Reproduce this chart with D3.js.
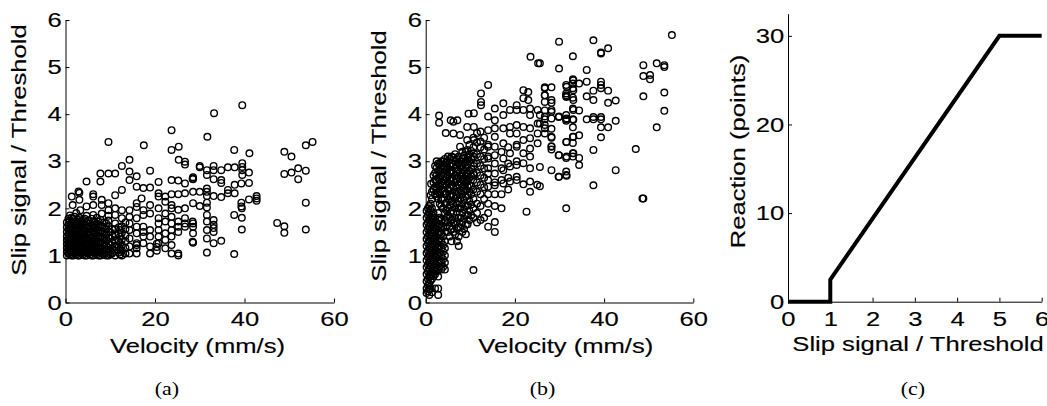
<!DOCTYPE html>
<html>
<head>
<meta charset="utf-8">
<script src="https://cdn.jsdelivr.net/npm/d3@7"></script>
<style>
  body { margin: 0; background: #fff; }
  svg { display: block; }
</style>
</head>
<body>
<svg id="fig" width="1047" height="406"></svg>
<script>
// Slip signal vs velocity, two conditions (a) and (b), plus reaction curve (c)
// values

// (a) scattered points, [velocity mm/s, slip signal / threshold]
const pointsA = [
  [9.6,3.41],[17.5,3.34],[23.7,3.66],[23.7,3.24],[25.3,3.31],[31.7,3.52],[33.2,4.02],[39.5,4.19],[37.7,3.24],[41.1,3.17],
  [48.9,3.2],[50.5,3.1],[53.7,3.34],[55.2,3.41],[48.9,2.73],[50.5,2.76],[52,2.85],[52,2.62],[53.7,2.8],[53.7,2.12],
  [47.3,1.69],[48.9,1.62],[48.9,1.48],[53.7,1.55],[25.3,3.03],[26.7,2.99],[26.7,2.93],[12.6,2.9],[14.3,3.03],[7.8,2.74],
  [9.6,2.74],[11.1,2.74],[7.8,2.57],[4.7,2.57],[14.3,2.78],[14.3,2.6],[15.9,2.68],[18.9,2.8],
  [39.3,2.53],[41,2.54],[41,2.76],[39.5,2.71],[39.5,2.81],[39.5,2.96],[39.5,2.88],[37.8,2.87],[36.3,2.87],[34.8,2.81],
  [33.1,2.9],[33.1,2.81],[31.6,2.81],[31.6,2.71],[30,2.9],[30,2.87],[33.1,2.62],[34.8,2.6],[34.8,2.54],[31.6,2.42],
  [30,2.35],[31.6,2.35],[28.5,2.35],[28.5,2.66],[28.5,2.62],[28.5,2.11],[30,2.05],[31.6,2.26],[31.6,2.12],[31.6,2.02],
  [31.6,1.86],[31.6,1.72],[31.6,1.54],[31.6,1.36],[33.1,1.75],[33.1,1.65],[33.1,1.58],[33.1,1.5],[33.1,1.26],[34.8,1.31],
  [31.6,1.06],[28.5,1.68],[28.5,1.61],[28.5,1.47],[28.5,1.27],[33.1,2.26],[34.8,2.24],[36.3,2.32],[36.3,2.39],[37.8,2.5],
  [37.8,2.32],[41,2.19],[42.7,2.26],[42.7,2.21],[42.7,2.16],[39.3,2.12],[39.3,2.04],[37.7,1.03],[39.4,1.55],[39.4,1.8],
  [39.4,2.0],[37.7,1.86],
  [20.8,2.56],[23.7,2.6],[25.2,2.59],[26.7,2.53],[28.4,2.63],[15.9,2.46],[17.4,2.43],[18.9,2.44],[12.6,2.39],[11.1,2.28],
  [23.7,2.3],[25.2,2.3],[26.7,2.32],[20.8,2.32],[20.8,2.25],[22.3,2.25],[22.3,2.14],[17,2.21],[15.9,2.11],[15.9,2.03],
  [18.9,2.07],[23.7,2.07],[23.7,2.0],[25.2,1.97],[26.7,2.0],[17.4,1.96],[17.4,1.86],[18.9,1.89],[20.8,2.0],[20.8,1.79],
  [20.8,1.68],[22.3,1.89],[22.3,1.72],[14.3,1.96],[14.3,1.82],[14.3,1.68],[15.9,1.79],[15.9,1.61],[23.7,1.82],[23.7,1.68],
  [25.2,1.72],[25.2,1.61],[26.7,1.79],[26.7,1.68],[26.7,1.61],[28.4,1.72],[25.2,1.5],[28.4,1.29],[17.4,1.61],[17.4,1.5],
  [17.4,1.4],[17.4,1.26],[18.9,1.54],[18.9,1.4],[18.9,1.19],[18.9,1.04],[20.8,1.54],[20.8,1.4],[20.8,1.26],[22.3,1.47],
  [22.3,1.33],[22.3,1.15],[23.7,1.54],[23.7,1.4],[23.7,1.22],[23.7,1.04],[25.2,1.04],[25.2,1.0],[14.3,1.54],[14.3,1.36],
  [14.3,1.19],[14.3,1.04],[15.9,1.47],[15.9,1.26],[15.9,1.04],[20.4,1.25],[20.4,1.18],[20.4,1.1],[15.9,1.22],[15.9,1.15],
  [1.4,2.25],[2.9,2.36],[3.1,2.18],[4.7,2.04],[6.2,2.25],[6.2,2.07],[8.1,2.18],[8.1,2.07],[8.1,1.89],[9.6,2.11],
  [9.6,1.96],[11.1,2.0],[11.1,1.86],[12.6,1.96],[12.6,1.79],[1.6,2.07],[3.3,1.96],[6.2,2.3],[3.1,2.33]
];

// (a) dense low-velocity columns: [velocity, [slip values]]
const denseA = [
  [0.3, [1.0,1.08,1.16,1.24,1.32,1.4,1.5,1.6,1.7]],
  [0.65, [1.04,1.12,1.2,1.28,1.36,1.45,1.55,1.65,1.78]],
  [1.0, [1.02,1.1,1.18,1.26,1.34,1.42,1.52,1.62,1.74,1.85]],
  [1.35, [1.0,1.08,1.16,1.24,1.32,1.4,1.48,1.58,1.7,1.8]],
  [1.7, [1.0,1.06,1.14,1.22,1.3,1.38,1.46,1.56,1.66,1.78]],
  [2.05, [1.04,1.12,1.2,1.3,1.4,1.5,1.6,1.68,1.82]],
  [2.4, [1.02,1.1,1.18,1.26,1.36,1.44,1.54,1.64,1.72,1.9]],
  [2.75, [1.0,1.06,1.14,1.22,1.3,1.38,1.46,1.56,1.66,1.76]],
  [3.1, [1.0,1.08,1.16,1.24,1.32,1.42,1.5,1.6,1.7,1.8]],
  [3.5, [1.04,1.12,1.22,1.32,1.42,1.52,1.62,1.72]],
  [3.9, [1.02,1.1,1.2,1.28,1.38,1.46,1.56,1.66,1.76]],
  [4.3, [1.0,1.06,1.14,1.24,1.34,1.42,1.52,1.64,1.78]],
  [4.7, [1.0,1.08,1.18,1.26,1.36,1.46,1.58,1.7,1.84]],
  [5.1, [1.04,1.14,1.24,1.34,1.5,1.62,1.74]],
  [5.5, [1.02,1.12,1.22,1.32,1.44,1.56,1.68]],
  [5.85, [1.0,1.1,1.2,1.3,1.4,1.52,1.64,1.78]],
  [6.2, [1.0,1.08,1.16,1.26,1.36,1.48,1.6,1.72,1.86]],
  [6.6, [1.04,1.14,1.24,1.34,1.46,1.58,1.7]],
  [7.0, [1.02,1.1,1.2,1.3,1.42,1.54,1.66,1.8]],
  [7.4, [1.0,1.06,1.16,1.26,1.36,1.48,1.6,1.72]],
  [7.8, [1.0,1.08,1.18,1.28,1.4,1.52,1.64,1.76]],
  [8.2, [1.04,1.14,1.26,1.38,1.5,1.62]],
  [8.6, [1.02,1.12,1.22,1.34,1.46,1.58,1.7]],
  [9.1, [1.0,1.1,1.2,1.32,1.44,1.56,1.68]],
  [9.6, [1.0,1.06,1.16,1.26,1.38,1.5,1.62,1.74,1.84]],
  [10.0, [1.02,1.1,1.22,1.36,1.5]],
  [10.4, [1.04,1.14,1.28,1.42,1.56]],
  [11.1, [1.0,1.1,1.2,1.32,1.44,1.56,1.68]],
  [11.9, [1.06,1.18,1.3,1.46,1.6]],
  [12.2, [1.02,1.14,1.26,1.4,1.54]],
  [12.6, [1.0,1.1,1.22,1.34,1.48,1.62]],
  [13.4, [1.04,1.16,1.3,1.42,1.56,1.7]]
];

// (b) scattered points
const pointsB = [
  [55.2,5.68],[29.9,5.54],[37.6,5.57],[40.9,5.4],[39.3,5.31],[39.3,5.29],[33,5.23],[29.9,4.97],[36.1,4.94],[48.8,5.04],
  [51.8,5.08],[53.5,5.04],[53.5,5.0],[48.8,4.81],[50.3,4.83],[50.3,4.74],[48.8,4.38],[53.5,4.46],[53.5,4.07],[51.8,3.72],
  [47.1,3.26],[42.6,2.81],[37.6,2.49],[48.8,2.21],[31.5,2.0],[42.6,4.29],[40.9,4.24],[42.6,3.86],[40.9,4.5],[39.3,4.55],
  [39.3,4.62],[39.3,4.69],[37.6,4.5],[37.6,4.3],[36.1,4.38],[36.1,4.69],[34.4,4.65],[33,4.65],[33,4.55],[33,4.35],
  [31.5,4.62],[31.5,4.4],[31.5,4.37],[31.5,4.44],[33,4.74],[28.2,4.57],[26.7,4.55],[26.7,4.4],[26.7,4.26],[28.2,4.24],
  [25.6,5.08],[26.7,4.08],[28.2,4.05],[29.8,3.94],[31.5,3.98],[33,4.12],[34.4,4.08],[33,3.89],[33,3.72],[31.5,3.89],
  [31.5,3.86],[36.1,3.89],[37.6,3.94],[39.3,3.94],[39.3,3.89],[37.6,3.89],[40.9,3.72],[39.3,3.72],[25.6,3.98],[25.6,3.8],
  [26.7,3.77],[26.7,3.59],[28.2,3.69],[28.2,3.5],[26.7,3.89],[34.4,3.55],[33,3.52],[31.5,3.41],[33,3.39],[28.2,3.32],
  [28.2,3.25],[39.3,3.51],[37.6,3.24],[33,3.17],[33,3.1],[31.5,3.07],[34.4,3.07],[34.4,2.92],[29.8,3.13],[28.2,2.81],
  [29.8,2.67],[31.5,2.71],[31.5,2.78],[25.6,2.88],[25.6,2.47],
  [23.5,5.22],[25.2,5.08],[14,4.62],[12.4,4.44],[12.4,4.26],[12.4,4.19],[3,3.97],[5.6,3.87],[7.1,3.87],[9.6,4.01],
  [23,4.47],[23,4.3],[26.7,4.57],[3.0,3.82],[4.5,3.6],[1.2,2.52],
  [23.4,4.12],[23.4,3.98],[23.4,3.7],[23.4,3.49],[23.4,3.27],[23.4,3.1],[23.4,2.85],[23.4,2.57],
  [21.9,4.51],[21.9,4.34],[21.9,4.09],[21.9,3.73],[21.9,3.45],[21.9,3.17],[21.9,2.96],
  [20.4,4.19],[20.4,4.09],[20.4,3.77],[20.4,3.59],[20.4,3.31],[20.4,2.92],[20.4,2.67],
  [18.9,4.09],[18.9,3.73],[18.9,3.59],[18.9,3.17],[18.9,2.89],[18.9,2.57],
  [17.4,4.23],[17.4,3.98],[17.4,3.7],[17.4,3.38],[17.4,3.06],[17.4,2.81],[17.4,2.53],
  [15.5,4.12],[15.5,3.87],[15.5,3.7],[15.5,3.52],[15.5,3.31],[15.5,3.13],[15.5,2.74],[15.5,2.49],
  [14.0,3.95],[14.0,3.66],[14.0,3.31],[14.0,3.06],[14.0,2.74],[14.0,2.46],
  [12.3,3.63],[12.3,3.42],[12.3,3.1],
  [10.8,4.02],[10.8,3.73],[10.8,3.45],[10.8,3.17],[10.8,2.96],[10.8,2.71],
  [9.3,3.73],[9.3,3.45],[9.3,3.24],[9.3,3.03],[9.3,2.74],[9.3,2.57],
  [7.7,3.56],[7.7,3.31],[6.2,3.84],[6.2,3.59],
  [25.1,4.09],[25.1,3.8],[25.1,3.59],[25.1,3.38],[26.7,4.4],[26.7,3.95],[26.7,3.7],
  [28.2,4.3],[28.2,4.09],[28.2,3.91],[28.2,3.52],[28.2,3.31],[29.9,3.95],[29.9,3.13],
  [31.6,4.58],[31.6,4.37],[31.6,3.91],[31.6,3.41],[31.6,3.1],
  [33.1,4.72],[33.1,4.51],[33.1,4.3],[33.1,4.09],[33.1,3.88],[33.1,3.52],[33.1,3.17],
  [29.9,2.67],[31.6,2.69],[48.6,2.21],[22.6,1.93],[23.4,2.35],[25.0,2.5],[21.9,2.51],[10.7,0.69]
];

// (b) dense low-velocity columns
const denseB = [
  [0.2, [0.2,0.3,0.45,0.6,0.75,0.9,1.05,1.2,1.35,1.5,1.65,1.8,1.95]],
  [0.5, [0.24,0.36,0.5,0.66,0.8,0.96,1.1,1.26,1.4,1.56,1.7,1.86,2.0]],
  [0.8, [0.16,0.28,0.4,0.55,0.7,0.85,1.0,1.15,1.3,1.45,1.6,1.75,1.9,2.05]],
  [1.1, [0.3,0.46,0.6,0.76,0.9,1.06,1.2,1.36,1.5,1.66,1.8,1.96,2.1,2.28]],
  [1.4, [0.22,0.5,0.65,0.8,0.95,1.1,1.25,1.4,1.55,1.7,1.85,2.0,2.2,2.35]],
  [1.75, [0.56,0.7,0.86,1.0,1.16,1.3,1.46,1.6,1.76,1.9,2.4,2.55,2.7]],
  [2.1, [0.3,0.6,0.75,0.9,1.05,1.2,1.35,1.5,1.65,1.8,2.3,2.45,2.6,2.75,2.9]],
  [2.45, [0.66,0.8,0.96,1.1,1.26,1.4,1.56,1.7,2.25,2.4,2.56,2.7,2.86,3.0]],
  [2.8, [0.16,0.3,0.55,0.7,0.85,1.0,1.15,1.3,1.45,1.6,1.75,1.9,2.2,2.35,2.5,2.65,2.8,2.95]],
  [3.15, [0.76,0.9,1.06,1.2,1.36,1.5,1.66,1.8,2.1,2.3,2.46,2.62,2.78,2.94]],
  [3.5, [0.7,0.85,1.0,1.15,1.3,1.45,1.6,1.75,2.05,2.2,2.4,2.55,2.7,2.85,3.0]],
  [3.9, [0.76,0.92,1.08,1.22,1.4,1.6,2.0,2.2,2.36,2.52,2.68,2.84,3.0]],
  [4.3, [0.7,0.85,1.0,1.15,1.3,1.5,1.75,1.9,2.1,2.3,2.45,2.6,2.75,2.9,3.05]],
  [4.65, [1.6,1.8,1.96,2.12,2.3,2.5,2.66,2.82,2.98]],
  [5.0, [1.5,1.7,1.85,2.0,2.2,2.4,2.55,2.7,2.85,3.0,3.1]],
  [5.4, [1.4,1.62,1.8,2.06,2.26,2.44,2.6,2.76,2.9,3.05]],
  [5.8, [1.3,1.55,1.75,1.95,2.15,2.3,2.5,2.65,2.8,2.95,3.1]],
  [6.2, [1.5,1.7,1.9,2.1,2.26,2.44,2.6,2.76,2.92,3.08]],
  [6.6, [1.45,1.65,1.8,2.0,2.2,2.35,2.55,2.7,2.85,3.0,3.15]],
  [7.0, [1.3,1.56,1.72,1.92,2.1,2.28,2.44,2.62,2.78,2.92,3.06]],
  [7.4, [1.2,1.4,1.6,1.8,2.0,2.15,2.35,2.5,2.65,2.8,2.95,3.1]],
  [7.8, [1.6,1.8,2.0,2.2,2.38,2.54,2.7,2.86,3.0]],
  [8.2, [1.5,1.7,1.9,2.1,2.3,2.45,2.6,2.75,2.9,3.05,3.2]],
  [8.6, [1.56,1.78,1.98,2.18,2.36,2.5,2.64,2.8,2.96,3.12]],
  [9.0, [1.45,1.65,1.85,2.05,2.25,2.4,2.55,2.7,2.85,3.0,3.2]],
  [9.4, [1.66,1.86,2.06,2.28,2.46,2.6,2.76,2.92,3.08]],
  [9.8, [1.75,1.95,2.15,2.35,2.5,2.65,2.8,3.0,3.15,3.35]],
  [10.2, [1.85,2.08,2.3,2.48,2.68,2.84,3.04,3.22]],
  [10.7, [1.8,2.0,2.2,2.4,2.6,2.75,2.9,3.1,3.3,3.5]],
  [11.5, [1.7,1.9,2.1,2.35,2.55,2.75,2.95,3.15,3.4,3.6]],
  [12.3, [1.75,2.05,2.3,2.5,2.7,2.9,3.3]],
  [13.1, [1.8,2.2,2.45,2.65,2.85,3.05,3.25,3.5]],
  [14.0, [1.61,1.9,2.1,2.3,2.6,2.85,3.1,3.35]],
  [15.5, [1.5,1.71,2.05,2.3,2.55,2.95]],
  [17.0, [2.0,2.3,2.6,2.85,3.2]],
  [18.5, [2.4,2.65,2.95,3.3]],
  [20.4, [2.6,3.0,3.35]]
];

// (c) reaction as a function of slip signal / threshold
const reactionSlip   = [0, 1, 1, 5, 6];
const reactionPoints = [0, 0, 2.5, 30, 30];

// tick values
const velocityTicks = [0, 20, 40, 60];
const slipTicks     = [0, 1, 2, 3, 4, 5, 6];
const reactionTicks = [0, 10, 20, 30];

const STRETCH = 1.22;   // figure glyphs look wide, stretch along reading direction
const FONT = "'Liberation Sans', Arial, Helvetica, sans-serif";
const SERIF = "'Liberation Serif', 'Times New Roman', serif";

const svg = d3.select("#fig");

function addLabel(x, y, str, rotate, opts = {}) {
  svg.append("text")
    .attr("transform", `translate(${x},${y})${rotate ? " rotate(-90)" : ""} scale(${STRETCH},1)`)
    .attr("text-anchor", "middle")
    .style("font-family", opts.family || FONT)
    .style("font-size", (opts.size || 21) + "px")
    .style("fill", "#000")
    .style("stroke", "#000")
    .style("stroke-width", opts.family ? 0 : 0.15)
    .text(str);
}

function styleTicks(g) {
  g.selectAll("text")
    .attr("transform", `scale(${STRETCH},1)`)
    .style("font-family", FONT)
    .style("font-size", "21px")
    .style("stroke", "#000")
    .style("stroke-width", 0.15);
}

function drawAxes(x, y, xTicks, yTicks) {
  const y0 = y.range()[0];
  const x0 = x.range()[0];

  svg.append("g")
    .attr("transform", `translate(0,${y0})`)
    .attr("color", "#000")
    .call(d3.axisBottom(x).tickValues(xTicks).tickSize(-4).tickSizeOuter(0).tickPadding(9).tickFormat(d3.format("d")))
    .call(styleTicks);

  svg.append("g")
    .attr("transform", `translate(${x0},0)`)
    .attr("color", "#000")
    .call(d3.axisLeft(y).tickValues(yTicks).tickSize(-4).tickSizeOuter(0).tickPadding(3).tickFormat(d3.format("d")))
    .call(styleTicks);
}

function scatterPanel(points, dense, xRange) {
  const x = d3.scaleLinear().domain([0, 60]).range(xRange);
  const y = d3.scaleLinear().domain([0, 6]).range([302.5, 20]);

  const all = points.concat(dense.flatMap(([v, ss]) => ss.map(s => [v, s])));

  drawAxes(x, y, velocityTicks, slipTicks);

  svg.append("g")
    .selectAll("circle")
    .data(all)
    .join("circle")
    .attr("cx", d => x(d[0]))
    .attr("cy", d => y(d[1]))
    .attr("r", 3.3)
    .attr("fill", "none")
    .attr("stroke", "#000")
    .attr("stroke-width", 1.4);
}

// panel (a)
scatterPanel(pointsA, denseA, [65.5, 334]);
addLabel(197.5, 353, "Velocity (mm/s)");
addLabel(26, 150, "Slip signal / Threshold", true);
addLabel(167, 395, "(a)", false, { family: SERIF, size: 18 });

// panel (b)
scatterPanel(pointsB, denseB, [425.7, 693.3]);
addLabel(565.8, 353, "Velocity (mm/s)");
addLabel(386, 156, "Slip signal / Threshold", true);
addLabel(542.5, 395, "(b)", false, { family: SERIF, size: 18 });

// panel (c)
const xc = d3.scaleLinear().domain([0, 6]).range([788, 1041.7]);
const yc = d3.scaleLinear().domain([0, 32.5]).range([301.7, 13.7]);
drawAxes(xc, yc, slipTicks, reactionTicks);

const reaction = reactionSlip.map((s, i) => [s, reactionPoints[i]]);
svg.append("path")
  .datum(reaction)
  .attr("d", d3.line().x(d => xc(d[0])).y(d => yc(d[1])))
  .attr("fill", "none")
  .attr("stroke", "#000")
  .attr("stroke-width", 4)
  .attr("stroke-linejoin", "miter");

addLabel(918, 351, "Slip signal / Threshold");
addLabel(745, 151.5, "Reaction (points)", true);
addLabel(913, 395, "(c)", false, { family: SERIF, size: 18 });
</script>
</body>
</html>
